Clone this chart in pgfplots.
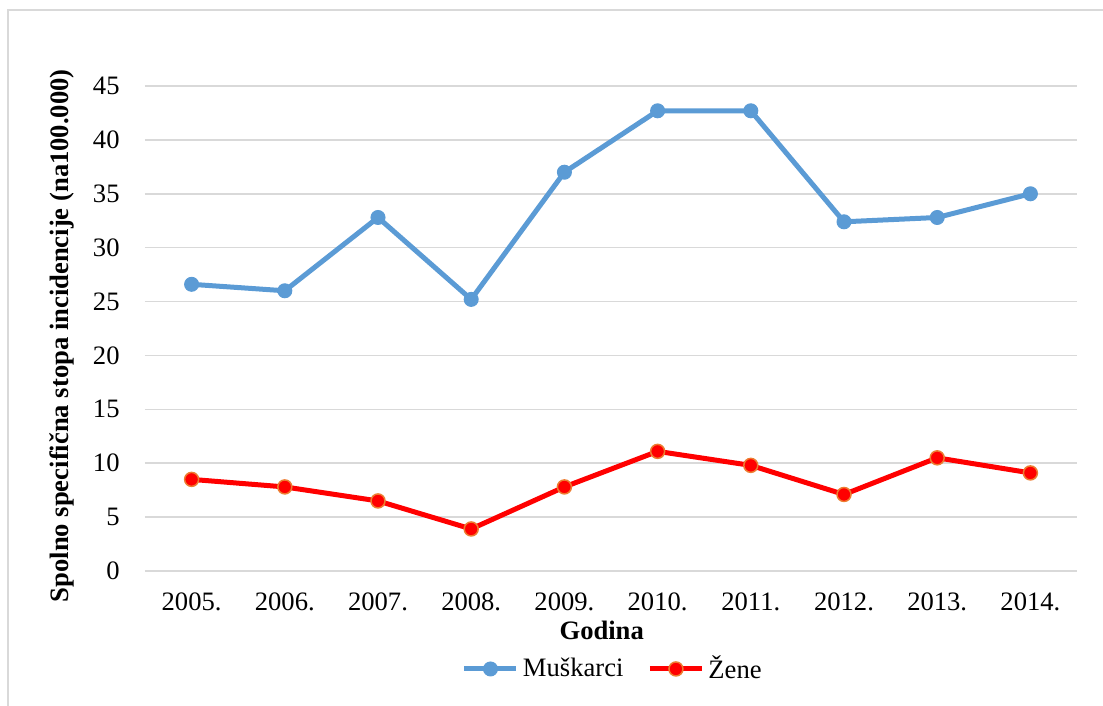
\documentclass[border=0pt]{standalone}
\usepackage{fontspec}
\setmainfont{Liberation Serif}
\usepackage{pgfplots}
\pgfplotsset{compat=1.18}
\definecolor{mblue}{HTML}{5B9BD5}
\definecolor{morange}{HTML}{ED7D31}
\definecolor{gridgray}{HTML}{D9D9D9}
\begin{document}
\fontsize{13.3}{15}\selectfont
\begin{tikzpicture}[x=1pt,y=1pt]
\useasboundingbox (0,0) rectangle (551.5,353);
\draw[gridgray, line width=0.75pt] (4,-20) rectangle (600,348);
\begin{axis}[
  at={(72.5pt,67.5pt)}, anchor=south west,
  scale only axis, width=466pt, height=242.5pt,
  xmin=-0.5, xmax=9.5, ymin=0, ymax=45,
  ytick={0,5,...,45},
  xtick={0,...,9},
  xticklabels={2005.,2006.,2007.,2008.,2009.,2010.,2011.,2012.,2013.,2014.},
  /pgf/number format/assume math mode=true,
  axis line style={draw=none},
  tick style={draw=none},
  ymajorgrids,
  grid style={gridgray, line width=0.75pt},
  yticklabel style={anchor=east, inner sep=0pt, xshift=-12.5pt},
  xticklabel style={anchor=north, inner sep=0pt, yshift=-10.5pt},
  xlabel={\textbf{Godina}},
  ylabel={\textbf{Spolno specifična stopa incidencije (na100.000)}},
  x label style={at={(axis description cs:0.49,0)}, anchor=north, inner sep=0pt, yshift=-25pt},
  y label style={at={(axis description cs:0,0.485)}, anchor=center, yshift=41.5pt},
  legend style={at={(axis description cs:0.503,-0.202)}, anchor=center, draw=none, fill=none, legend columns=2,
    /tikz/every even column/.append style={column sep=10pt}},
  legend image code/.code={\draw[mark repeat=2,mark phase=2,#1] plot coordinates {(0pt,0pt)(13pt,0pt)(26pt,0pt)};},
]
\addplot[mblue, line width=2.5pt, mark=*, mark size=3.5pt, mark options={fill=mblue, draw=mblue, line width=0.5pt}]
  coordinates {(0,26.6) (1,26.0) (2,32.8) (3,25.2) (4,37.0) (5,42.7) (6,42.7) (7,32.4) (8,32.8) (9,35.0)};
\addlegendentry{Muškarci}
\addplot[red, line width=2.5pt, mark=*, mark size=3.5pt, mark options={fill=red, draw=morange, line width=0.75pt}]
  coordinates {(0,8.5) (1,7.8) (2,6.5) (3,3.9) (4,7.8) (5,11.1) (6,9.8) (7,7.1) (8,10.5) (9,9.1)};
\addlegendentry{Žene}
\end{axis}
\end{tikzpicture}
\end{document}
